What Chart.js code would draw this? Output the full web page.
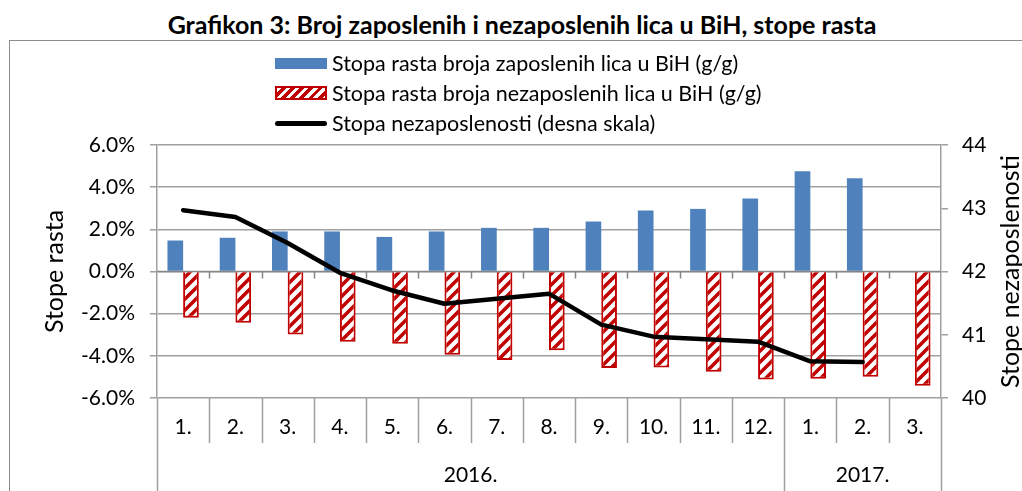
<!DOCTYPE html>
<html lang="bs">

<head>
    <meta charset="UTF-8">
    <title>Grafikon 3</title>
    <script src="https://cdn.jsdelivr.net/npm/chart.js"></script>
    <style>
        body {
            margin: 0;
            background: #fff;
            font-family: Lato, sans-serif;
        }

        #wrap {
            position: relative;
            width: 1022px;
            height: 491px;
            overflow: hidden;
        }

        #title {
            position: absolute;
            top: 8px;
            left: 0;
            width: 1044px;
            text-align: center;
            font-weight: bold;
            font-size: 25px;
            line-height: 32px;
            color: #000;
        }

        #frame {
            position: absolute;
            left: 9px;
            top: 40px;
            width: 1100px;
            height: 600px;
            border: 1.5px solid #8c8c8c;
        }

        #chart {
            position: absolute;
            left: 0;
            top: 0;
        }

        #legend {
            position: absolute;
            left: 275px;
            top: 48px;
            font-size: 21.5px;
            color: #000;
        }

        .item {
            display: flex;
            align-items: center;
            height: 30px;
        }

        .sw {
            width: 52px;
            margin-right: 5px;
            box-sizing: border-box;
        }
    </style>
</head>

<body>
    <div id="wrap">
        <div id="frame"></div>
        <div id="title">Grafikon 3: Broj zaposlenih i nezaposlenih lica u BiH, stope rasta</div>
        <canvas id="chart" width="1022" height="491"></canvas>
        <div id="legend"></div>
    </div>

    <script>
        // month labels and year groups
        const months = ['1.', '2.', '3.', '4.', '5.', '6.', '7.', '8.', '9.', '10.', '11.', '12.', '1.', '2.', '3.'];
        const years = ['2016.', '2017.'];
        const monthsPerYear = [12, 3];

        const seriesNames = [
            'Stopa rasta broja zaposlenih lica u BiH (g/g)',
            'Stopa rasta broja nezaposlenih lica u BiH (g/g)',
            'Stopa nezaposlenosti (desna skala)'
        ];

        // % growth, left axis
        const employedGrowth = [1.47, 1.60, 1.90, 1.90, 1.64, 1.90, 2.07, 2.07, 2.37, 2.89, 2.97, 3.46, 4.75, 4.42, null];
        const unemployedGrowth = [-2.19, -2.43, -2.99, -3.33, -3.43, -3.95, -4.20, -3.74, -4.58, -4.55, -4.76, -5.12, -5.09, -4.99, -5.42];
        // unemployment rate, right axis
        const unemploymentRate = [42.97, 42.86, 42.45, 41.98, 41.70, 41.49, 41.57, 41.65, 41.16, 40.97, 40.93, 40.89, 40.58, 40.57, null];

        const FONT = 'Lato';
        const GRID = '#a0a0a0';
        const BLUE = '#4F81BD';
        const RED = '#C00000';

        // hatch pattern for the unemployed bars
        function makeHatch() {
            const s = 11;
            const c = document.createElement('canvas');
            c.width = s;
            c.height = s;
            const g = c.getContext('2d');
            g.fillStyle = '#fff';
            g.fillRect(0, 0, s, s);
            g.strokeStyle = RED;
            g.lineWidth = 3.5;
            g.beginPath();
            g.moveTo(-s, s); g.lineTo(s, -s);
            g.moveTo(0, s); g.lineTo(s, 0);
            g.moveTo(0, 2 * s); g.lineTo(2 * s, 0);
            g.stroke();
            return g.createPattern(c, 'repeat');
        }

        // legend as html
        const legend = document.getElementById('legend');
        const swatchStyles = [
            'height:11px;background:' + BLUE,
            'height:14px;border:2px solid ' + RED + ';background:repeating-linear-gradient(135deg,#fff 0 3px,' + RED + ' 3px 6.5px)',
            'height:5px;border-radius:3px;background:#000'
        ];
        seriesNames.forEach((name, i) => {
            const row = document.createElement('div');
            row.className = 'item';
            row.innerHTML = '<div class="sw" style="' + swatchStyles[i] + '"></div><span>' + name + '</span>';
            legend.appendChild(row);
        });

        // separators, zero axis, year labels, right axis title
        const axisExtras = {
            id: 'axisExtras',
            beforeDatasetsDraw(chart) {
                const { ctx, chartArea } = chart;
                const y0 = chart.scales.y.getPixelForValue(0);
                const w = (chartArea.right - chartArea.left) / months.length;
                ctx.save();
                ctx.strokeStyle = '#868686';
                ctx.lineWidth = 1.5;
                ctx.beginPath();
                ctx.moveTo(chartArea.left, y0);
                ctx.lineTo(chartArea.right, y0);
                for (let i = 1; i < months.length; i++) {
                    const px = Math.round(chartArea.left + i * w) + 0.5;
                    ctx.moveTo(px, y0);
                    ctx.lineTo(px, y0 + 7);
                }
                ctx.stroke();
                ctx.restore();
            },
            afterDraw(chart) {
                const { ctx, chartArea } = chart;
                const H = chart.height;
                const w = (chartArea.right - chartArea.left) / months.length;
                const bounds = [0];
                monthsPerYear.forEach(n => bounds.push(bounds[bounds.length - 1] + n));
                ctx.save();
                ctx.strokeStyle = GRID;
                ctx.lineWidth = 1.5;
                ctx.beginPath();
                for (let i = 0; i <= months.length; i++) {
                    const px = Math.round(chartArea.left + i * w) + 0.5;
                    ctx.moveTo(px, chartArea.bottom);
                    ctx.lineTo(px, bounds.includes(i) ? H : chartArea.bottom + 45);
                }
                ctx.stroke();

                ctx.fillStyle = '#000';
                ctx.font = '21px ' + FONT;
                ctx.textAlign = 'center';
                ctx.textBaseline = 'middle';
                years.forEach((yr, k) => {
                    const a = chartArea.left + bounds[k] * w;
                    const b = chartArea.left + bounds[k + 1] * w;
                    ctx.fillText(yr, (a + b) / 2, 475);
                });

                // right axis title, reading upward like the left one
                ctx.font = '25px ' + FONT;
                ctx.translate(1011, (chartArea.top + chartArea.bottom) / 2);
                ctx.rotate(-Math.PI / 2);
                ctx.fillText('Stope nezaposlenosti', 0, 0);
                ctx.restore();
            }
        };

        const ctx = document.getElementById('chart').getContext('2d');
        new Chart(ctx, {
            data: {
                labels: months,
                datasets: [{
                    type: 'bar',
                    label: seriesNames[0],
                    data: employedGrowth,
                    backgroundColor: BLUE,
                    yAxisID: 'y',
                    order: 1
                }, {
                    type: 'bar',
                    label: seriesNames[1],
                    data: unemployedGrowth,
                    backgroundColor: makeHatch(),
                    borderColor: RED,
                    borderWidth: 2,
                    yAxisID: 'y',
                    order: 1
                }, {
                    type: 'line',
                    label: seriesNames[2],
                    data: unemploymentRate,
                    borderColor: '#000',
                    borderWidth: 4.5,
                    borderCapStyle: 'round',
                    borderJoinStyle: 'round',
                    pointRadius: 0,
                    tension: 0,
                    yAxisID: 'y2',
                    order: 0
                }]
            },
            options: {
                responsive: false,
                animation: false,
                layout: { padding: { left: 10, top: 145, right: 0, bottom: 0 } },
                datasets: { bar: { categoryPercentage: 0.6, barPercentage: 1 } },
                plugins: {
                    legend: { display: false },
                    tooltip: { enabled: false }
                },
                scales: {
                    x: {
                        grid: { display: false, drawTicks: false },
                        border: { display: false },
                        ticks: {
                            color: '#000',
                            font: { family: FONT, size: 21 },
                            padding: 17,
                            maxRotation: 0,
                            autoSkip: false
                        },
                        afterFit(s) { s.height = 93; }
                    },
                    y: {
                        position: 'left',
                        min: -6,
                        max: 6,
                        ticks: {
                            stepSize: 2,
                            color: '#000',
                            font: { family: FONT, size: 21 },
                            padding: 15,
                            callback: v => v.toFixed(1) + '%'
                        },
                        grid: { color: GRID, lineWidth: 1.5, tickLength: 7 },
                        border: { color: GRID, width: 1.5 },
                        title: {
                            display: true,
                            text: 'Stope rasta',
                            color: '#000',
                            font: { family: FONT, size: 25 },
                            padding: { top: 30, bottom: 0 }
                        },
                        afterFit(s) { s.width = 147; }
                    },
                    y2: {
                        position: 'right',
                        min: 40,
                        max: 44,
                        ticks: {
                            stepSize: 1,
                            color: '#000',
                            font: { family: FONT, size: 21 },
                            padding: 14
                        },
                        grid: { drawOnChartArea: false, color: GRID, lineWidth: 1.5, tickLength: 7 },
                        border: { color: GRID, width: 1.5 },
                        afterFit(s) { s.width = 81; }
                    }
                }
            },
            plugins: [axisExtras]
        });
    </script>
</body>

</html>
